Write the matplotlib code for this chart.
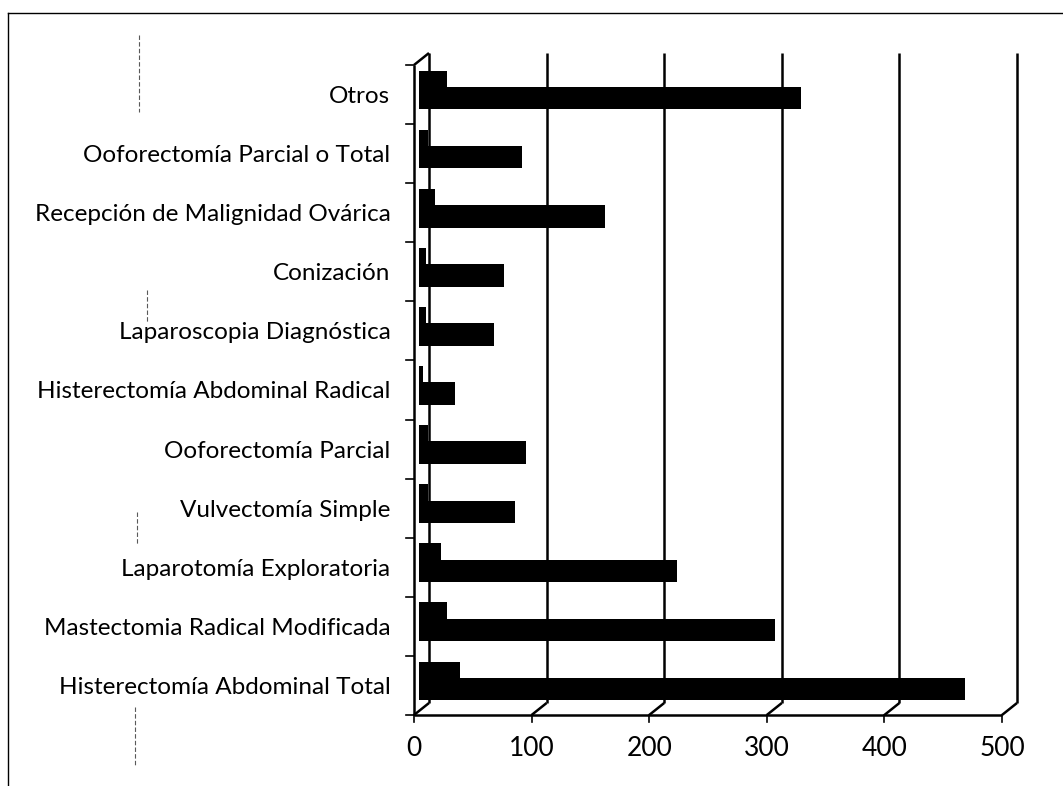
import matplotlib
matplotlib.use('Agg')
import matplotlib.pyplot as plt
from matplotlib.lines import Line2D
import numpy as np

# categorias de abajo hacia arriba
categorias = ['Histerectomía Abdominal Total', 'Mastectomia Radical Modificada',
              'Laparotomía Exploratoria', 'Vulvectomía Simple', 'Ooforectomía Parcial',
              'Histerectomía Abdominal Radical', 'Laparoscopia Diagnóstica', 'Conización',
              'Recepción de Malignidad Ovárica', 'Ooforectomía Parcial o Total', 'Otros']
serie_chica = [35, 24, 19, 8, 8, 3, 6, 6, 14, 8, 24]
serie_grande = [464, 303, 219, 82, 91, 31, 64, 72, 158, 88, 325]
ticks_x = [0, 100, 200, 300, 400, 500]

W, H = 1063, 786
fig = plt.figure(figsize=(W / 100, H / 100), dpi=100)
ax = fig.add_axes([414 / W, 1 - 715 / H, 588 / W, 650 / H])
ax.set_xlim(0, 500)
ax.set_ylim(-0.5, 10.5)
for s in ax.spines.values():
    s.set_visible(False)

px_x = 588 / 500.0  # pixeles por unidad x
px_y = 650 / 11.0   # pixeles por categoria
DX = 15 / px_x      # profundidad 3d
DY = 12 / px_y

lw = 1.8
kw = dict(color='black', lw=lw, clip_on=False, solid_capstyle='butt')

# pared del fondo (lineas de la grilla)
for v in ticks_x:
    ax.plot([v + DX, v + DX], [-0.5 + DY, 10.5 + DY], zorder=1, **kw)
    ax.plot([v, v + DX], [-0.5, -0.5 + DY], zorder=1, **kw)
    ax.plot([v, v], [-0.5, -0.5 - 7 / px_y], zorder=1, color='black', lw=1.2, clip_on=False)

# piso y pared izquierda
ax.plot([0, 500], [-0.5, -0.5], zorder=5, **kw)
ax.plot([0, 0], [-0.5, 10.5], zorder=5, **kw)
ax.plot([0, DX], [10.5, 10.5 + DY], zorder=5, **kw)
for k in range(12):
    ax.plot([-8 / px_x, 0], [k - 0.5, k - 0.5], zorder=5, color='black', lw=1.2, clip_on=False)

# barras
y = np.arange(len(categorias))
x0 = 5 / px_x
h = 0.38
ax.barh(y + 0.215, serie_chica, left=x0, height=h, color='black', zorder=3)
ax.barh(y - 0.06, serie_grande, left=x0, height=h, color='black', zorder=4)

fuente = 'Lato'
ax.set_yticks(y)
ax.set_yticklabels(categorias, fontsize=17.5, family=fuente)
ax.set_xticks(ticks_x)
ax.set_xticklabels([str(t) for t in ticks_x], fontsize=19, family=fuente)
ax.tick_params(axis='y', length=0, pad=17)
ax.tick_params(axis='x', length=0, pad=15)

# borde exterior del grafico
fig.add_artist(Line2D([8 / W, 1.0], [1 - 13 / H, 1 - 13 / H], color='black', lw=1.0))
fig.add_artist(Line2D([8 / W, 8 / W], [0, 1 - 13 / H], color='black', lw=1.0))

# marcas sueltas del escaneo
for xs, y1, y2 in [(139, 35, 112), (147, 290, 322), (137, 512, 545), (135, 707, 765)]:
    fig.add_artist(Line2D([xs / W, xs / W], [1 - y1 / H, 1 - y2 / H], color='0.35', lw=0.8,
                          linestyle=(0, (4, 2))))

fig.savefig('out.png', dpi=100)
